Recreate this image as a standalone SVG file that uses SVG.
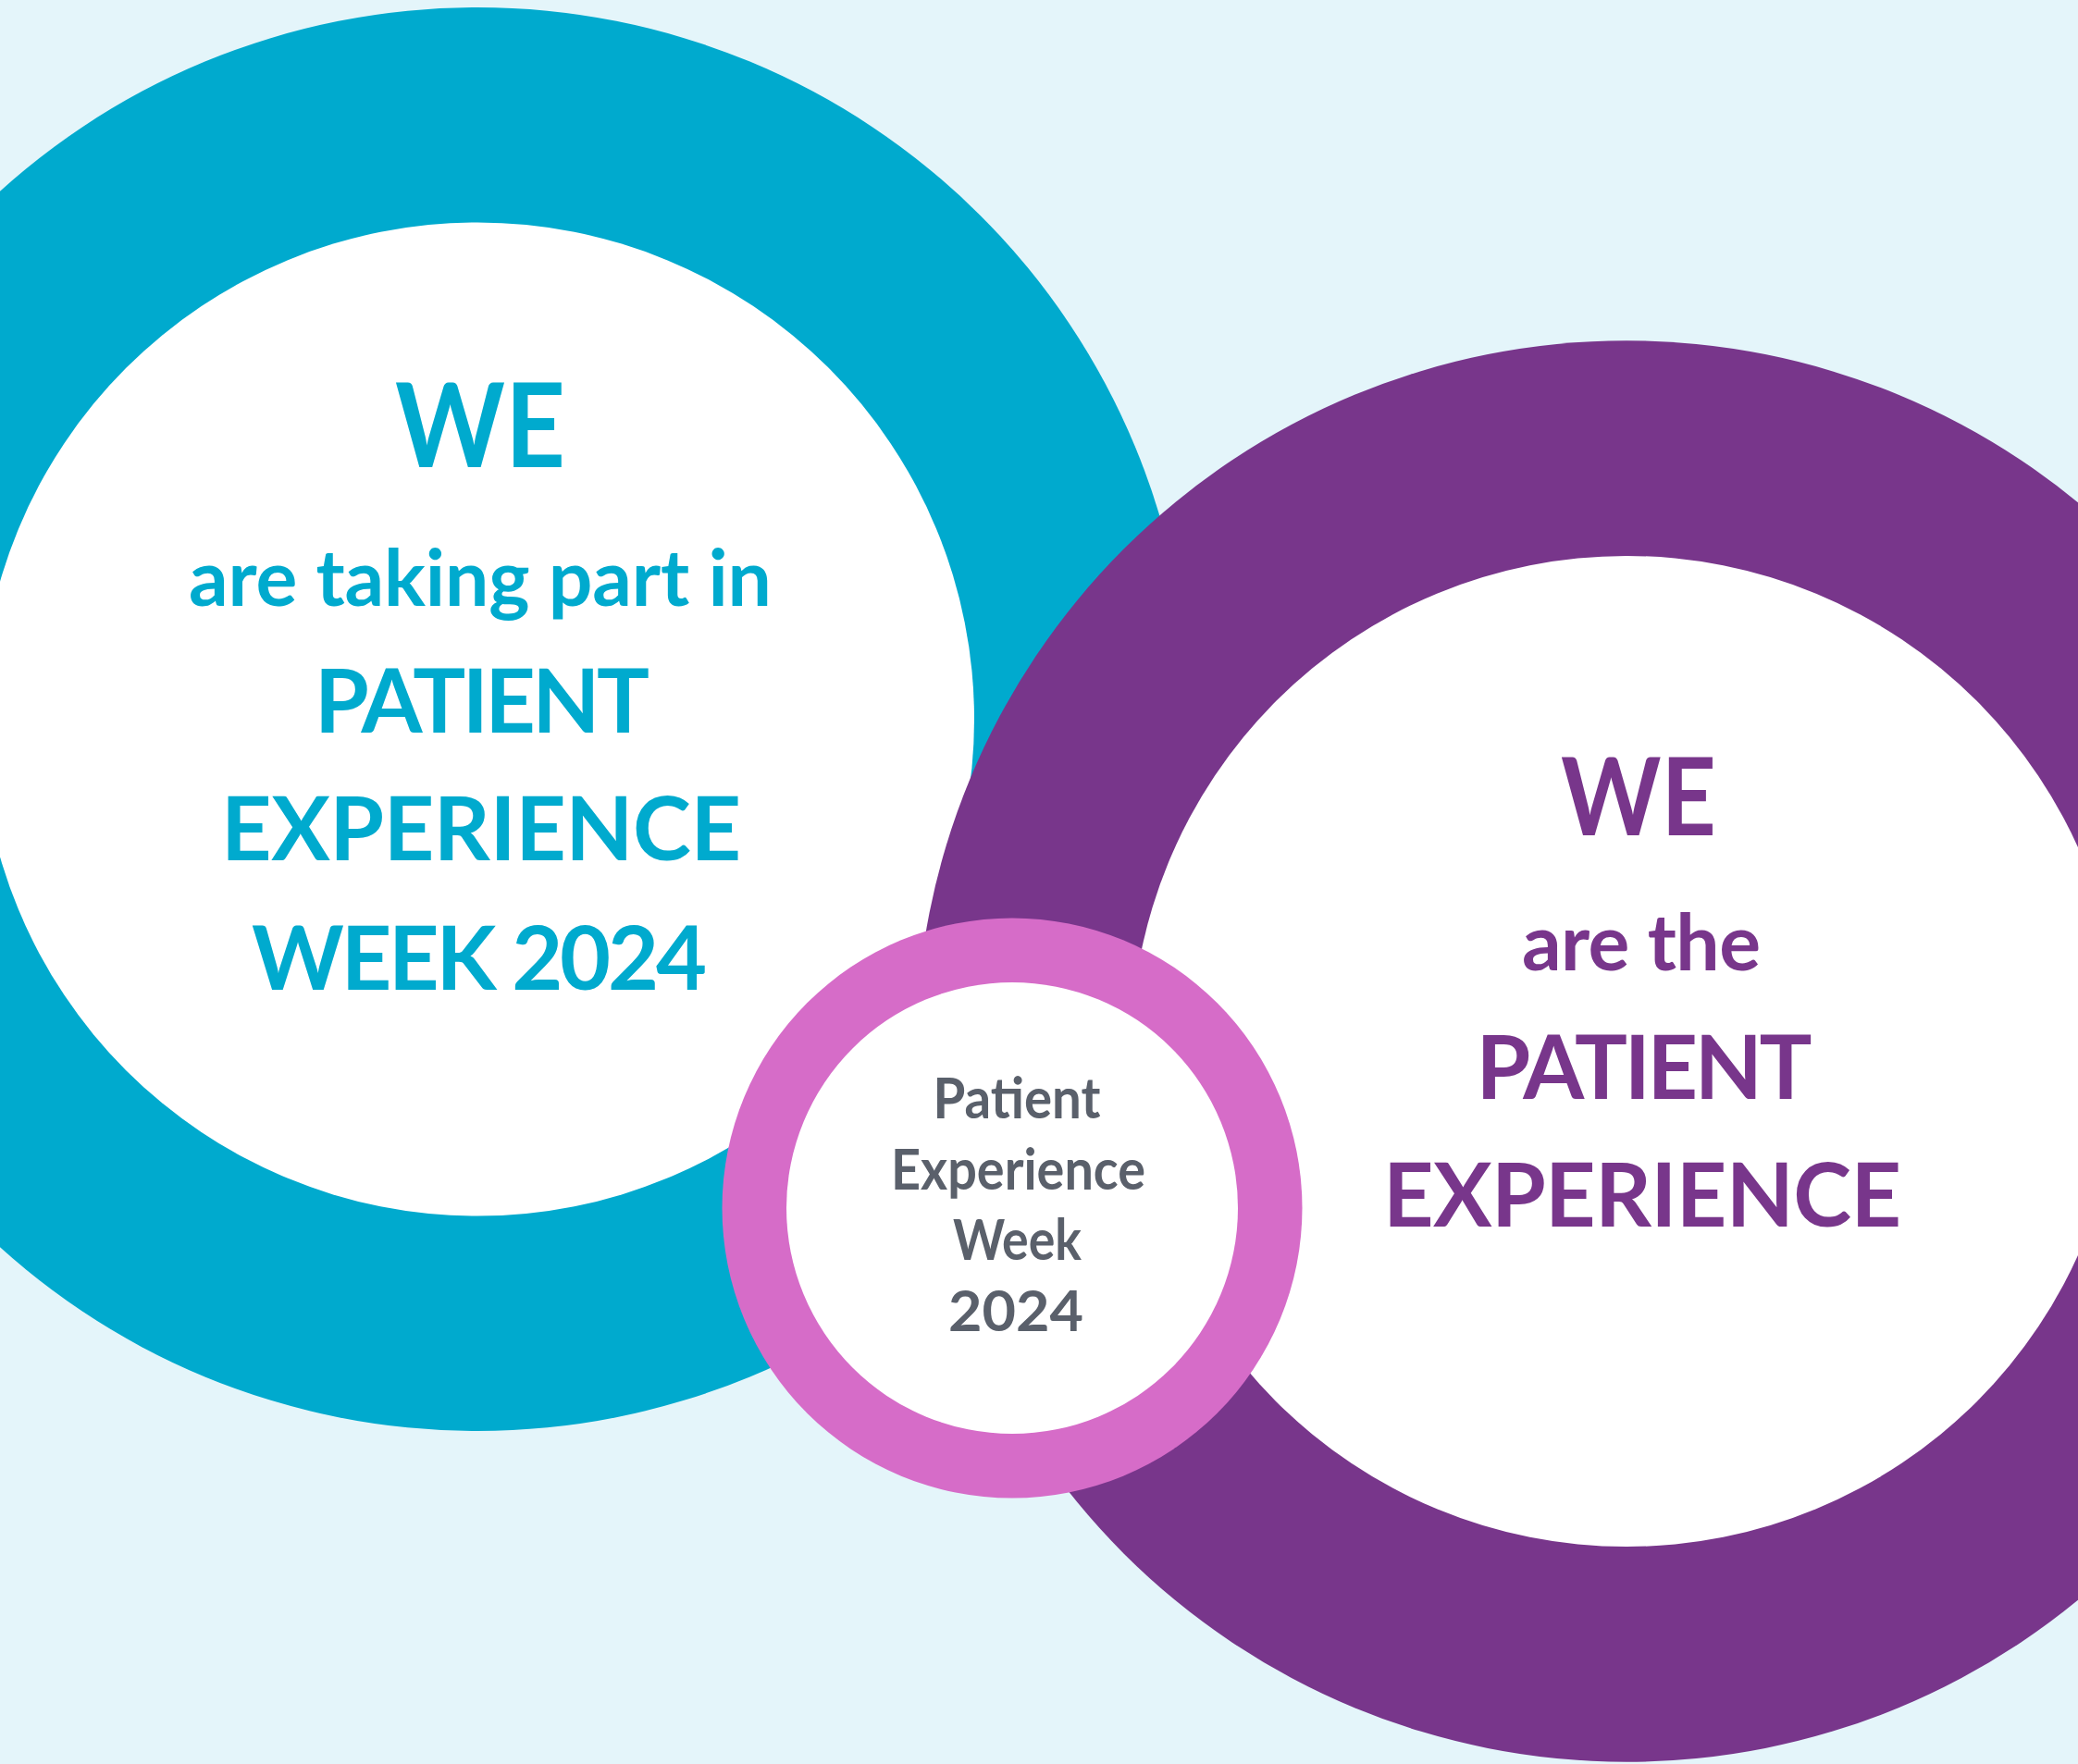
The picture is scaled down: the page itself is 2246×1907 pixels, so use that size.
<svg xmlns="http://www.w3.org/2000/svg" width="2246" height="1907" viewBox="0 0 2246 1907">
  <style>
    .t { font-family: Lato, "Open Sans", "Liberation Sans", sans-serif; font-weight: 700; text-anchor: middle; }
    .teal { fill: #00AACE; }
    .purple { fill: #78368B; }
    .pink { fill: #D66CC8; }
    .white { fill: #FFFFFF; }
    .gray { fill: #5A606B; }
  </style>
  <rect x="0" y="0" width="2246" height="1907" fill="#E4F5FA"/>

  <g id="node-teal">
    <circle class="teal" cx="516" cy="777.5" r="769.5"/>
    <circle class="white" cx="516" cy="777.5" r="537"/>
    <text class="t teal" x="519" y="505" font-size="126" textLength="184" lengthAdjust="spacingAndGlyphs">WE</text>
    <text class="t teal" x="519" y="655" font-size="84" textLength="630" lengthAdjust="spacing">are taking part in</text>
    <text class="t teal" x="521" y="792" font-size="95" textLength="362" lengthAdjust="spacing">PATIENT</text>
    <text class="t teal" x="520" y="930" font-size="95" textLength="562" lengthAdjust="spacing">EXPERIENCE</text>
    <text class="t teal" x="518" y="1070" font-size="95" textLength="492" lengthAdjust="spacing">WEEK 2024</text>
  </g>

  <g id="node-purple">
    <circle class="purple" cx="1758" cy="1136.5" r="768.2"/>
    <circle class="white" cx="1758" cy="1136.5" r="535.5"/>
    <text class="t purple" x="1771" y="903" font-size="117" textLength="168" lengthAdjust="spacingAndGlyphs">WE</text>
    <text class="t purple" x="1774" y="1049" font-size="84" textLength="258" lengthAdjust="spacing">are the</text>
    <text class="t purple" x="1777" y="1188" font-size="95" textLength="363" lengthAdjust="spacing">PATIENT</text>
    <text class="t purple" x="1775" y="1326" font-size="95" textLength="560" lengthAdjust="spacing">EXPERIENCE</text>
  </g>

  <g id="node-pink">
    <circle class="pink" cx="1094" cy="1306" r="313.5"/>
    <circle class="white" cx="1094" cy="1306" r="244"/>
    <text class="t gray" x="1099" y="1209" font-size="62" textLength="181" lengthAdjust="spacingAndGlyphs">Patient</text>
    <text class="t gray" x="1100.5" y="1286" font-size="62" textLength="275" lengthAdjust="spacingAndGlyphs">Experience</text>
    <text class="t gray" x="1099.5" y="1362" font-size="62" textLength="139" lengthAdjust="spacingAndGlyphs">Week</text>
    <text class="t gray" x="1098" y="1439" font-size="62" textLength="146" lengthAdjust="spacingAndGlyphs">2024</text>
  </g>
</svg>
